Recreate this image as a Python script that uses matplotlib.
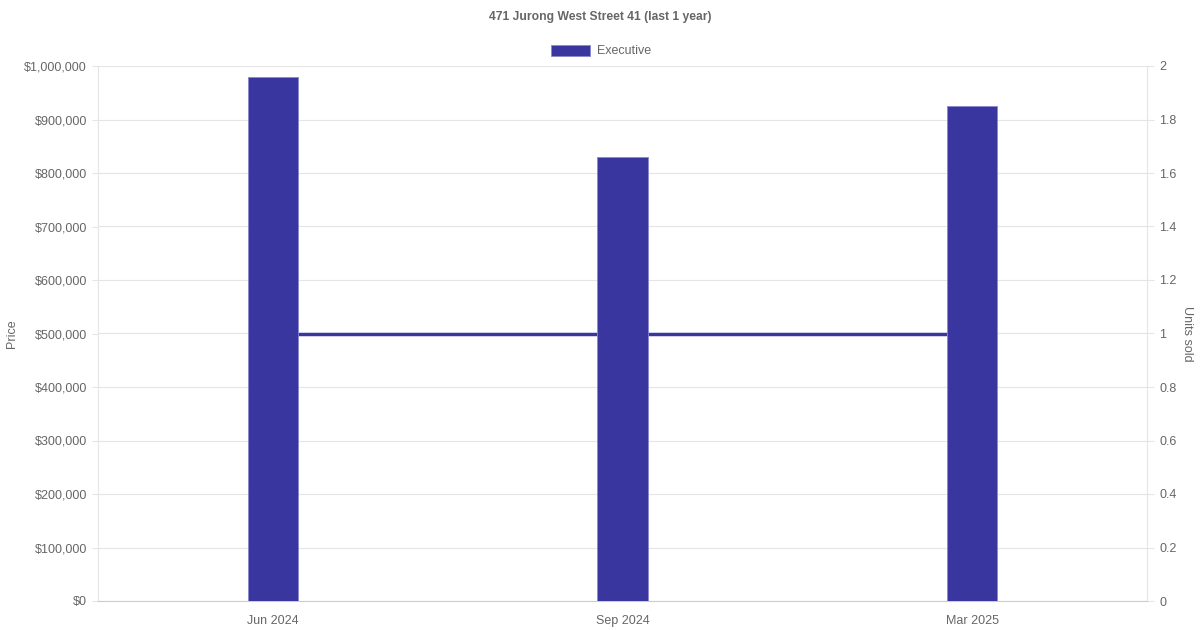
import matplotlib
matplotlib.use("Agg")
import matplotlib.pyplot as plt
from matplotlib.ticker import FuncFormatter, MultipleLocator

plt.rcParams['font.family'] = ['Liberation Sans', 'DejaVu Sans']

# data
months = ['Jun 2024', 'Sep 2024', 'Mar 2025']
prices = [980000, 830000, 925000]
units_sold = [1, 1, 1]

bar_color = '#3a36a0'
text_color = '#666666'
grid_color = '#e5e5e5'

fig = plt.figure(figsize=(12, 6.3), dpi=100)
ax = fig.add_axes([98 / 1200, 1 - 601 / 630, (1147 - 98) / 1200, (601 - 66) / 630])
ax2 = ax.twinx()

x = range(len(months))
ax.bar(x, prices, width=0.143, color=bar_color, edgecolor='#8a88cc', linewidth=0.6, zorder=3)
ax2.plot(x, units_sold, color=bar_color, linewidth=2.5, zorder=2)

# line sits behind the bars, grid behind the line
ax.set_zorder(2)
ax.patch.set_visible(False)
ax2.set_zorder(1)

ax.set_xlim(-0.5, 2.5)
ax.set_ylim(0, 1000000)
ax2.set_ylim(0, 2)
ax.set_xticks(list(x))
ax.set_xticklabels(months)
ax.yaxis.set_major_locator(MultipleLocator(100000))
ax.yaxis.set_major_formatter(FuncFormatter(lambda v, p: f'${v:,.0f}'))
ax2.yaxis.set_major_locator(MultipleLocator(0.2))
ax2.yaxis.set_major_formatter(FuncFormatter(lambda v, p: f'{v:g}'))

ax2.grid(axis='y', color=grid_color, linewidth=0.8, zorder=0)
ax2.set_axisbelow(True)

for a in (ax, ax2):
    for s in a.spines.values():
        s.set_visible(False)
ax.spines['left'].set_visible(True)
ax.spines['left'].set_color(grid_color)
ax.spines['bottom'].set_visible(True)
ax.spines['bottom'].set_color('#cccccc')
ax2.spines['right'].set_visible(True)
ax2.spines['right'].set_color(grid_color)

ax.tick_params(axis='y', colors=text_color, labelsize=9, length=4, color=grid_color, pad=4)
ax.tick_params(axis='x', colors=text_color, labelsize=9, length=0, pad=10)
ax2.tick_params(axis='y', colors=text_color, labelsize=9, length=5, color=grid_color, pad=4)

ax.set_ylabel('Price', color=text_color, fontsize=9)
ax2.set_ylabel('Units sold', color=text_color, fontsize=9, rotation=270)
ax.yaxis.set_label_coords(-0.0765, 0.5)
ax2.yaxis.set_label_coords(1.0435, 0.5)

fig.text(0.5, 1 - 17 / 630, '471 Jurong West Street 41 (last 1 year)', ha='center', va='center',
         fontsize=8.7, fontweight='bold', color=text_color)

# legend box drawn like the chart.js one
fig.patches.append(plt.Rectangle((551 / 1200, 1 - 56 / 630), 39 / 1200, 11 / 630, transform=fig.transFigure,
                                 facecolor=bar_color, edgecolor='#8a88cc', linewidth=0.6))
fig.text(597 / 1200, 1 - 51 / 630, 'Executive', ha='left', va='center', fontsize=9, color=text_color)

fig.savefig('out.png', dpi=100)
